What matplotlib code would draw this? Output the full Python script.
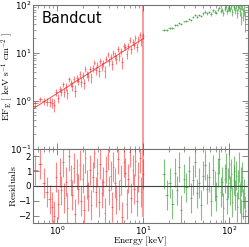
import matplotlib
matplotlib.use("Agg")
import matplotlib.pyplot as plt
import numpy as np

# red instrument (soft band)
red_e = [0.56, 0.63, 0.70, 0.76, 0.82, 0.87, 0.92, 0.97, 1.02, 1.07,
         1.12, 1.17, 1.22, 1.27, 1.32, 1.38, 1.44, 1.50, 1.56, 1.62,
         1.69, 1.76, 1.83, 1.90, 1.98, 2.06, 2.14, 2.23, 2.32, 2.41,
         2.51, 2.61, 2.72, 2.83, 2.94, 3.06, 3.18, 3.31, 3.44, 3.58,
         3.72, 3.87, 4.03, 4.19, 4.36, 4.53, 4.71, 4.90, 5.10, 5.30,
         5.51, 5.73, 5.96, 6.20, 6.45, 6.71, 6.98, 7.26, 7.55, 7.85,
         8.16, 8.49, 8.83, 9.18, 9.55, 9.95]
red_xerr = [0.04, 0.035, 0.03, 0.03, 0.025, 0.025, 0.025, 0.025, 0.025, 0.025,
            0.025, 0.025, 0.025, 0.025, 0.03, 0.03, 0.03, 0.03, 0.03, 0.03,
            0.035, 0.035, 0.035, 0.04, 0.04, 0.04, 0.045, 0.045, 0.045, 0.05,
            0.05, 0.05, 0.055, 0.055, 0.06, 0.06, 0.065, 0.065, 0.07, 0.07,
            0.075, 0.08, 0.08, 0.085, 0.085, 0.09, 0.095, 0.1, 0.1, 0.105,
            0.11, 0.115, 0.12, 0.125, 0.13, 0.135, 0.14, 0.145, 0.15, 0.155,
            0.165, 0.17, 0.175, 0.185, 0.19, 0.2]
red_f = [0.89, 1.08, 0.99, 0.97, 0.96, 0.92, 0.84, 1.54, 1.15, 1.81,
         1.55, 2.22, 1.55, 1.99, 1.44, 2.83, 2.34, 2.04, 2.91, 1.65,
         3.00, 2.64, 3.59, 2.45, 3.42, 2.34, 4.60, 3.65, 3.29, 4.71,
         3.15, 4.76, 6.30, 4.37, 5.72, 4.13, 6.83, 5.13, 6.21, 4.16,
         7.60, 9.29, 6.68, 8.30, 5.77, 9.95, 8.73, 7.39, 12.2, 8.60,
         10.8, 6.53, 14.2, 13.4, 9.49, 13.7, 18.7, 11.8, 17.3, 14.6,
         20.5, 13.5, 19.1, 24.2, 17.5, 22.7]
red_ferr = [0.13, 0.15, 0.17, 0.19, 0.21, 0.22, 0.24, 0.25, 0.26, 0.28,
            0.30, 0.31, 0.33, 0.34, 0.35, 0.37, 0.39, 0.41, 0.43, 0.45,
            0.47, 0.49, 0.52, 0.54, 0.57, 0.59, 0.62, 0.65, 0.68, 0.71,
            0.74, 0.77, 0.81, 0.85, 0.89, 0.93, 0.97, 1.02, 1.06, 1.11,
            1.16, 1.21, 1.27, 1.33, 1.39, 1.45, 1.52, 1.59, 1.66, 1.74,
            1.82, 1.89, 1.98, 2.07, 2.18, 2.27, 2.38, 2.48, 2.59, 2.72,
            2.83, 2.97, 3.10, 3.24, 3.40, 3.56]
red_res = [1.1, 1.5, 0.2, -0.4, -0.9, -1.4, -2.0, 0.6, -1.2, 0.9,
           -0.3, 1.6, -0.8, 0.3, -1.5, 2.0, 0.4, -0.6, 1.2, -1.9,
           0.8, -0.2, 1.4, -1.0, 0.5, -1.6, 1.9, 0.1, -0.7, 1.1,
           -1.3, 0.6, 2.2, -0.4, 0.9, -1.1, 1.5, -0.5, 0.3, -1.8,
           1.0, 2.1, -0.3, 0.7, -1.4, 1.3, 0.2, -0.9, 1.8, -0.6,
           0.4, -2.1, 1.6, 0.9, -1.2, 0.5, 2.3, -0.8, 1.1, -0.2,
           1.7, -1.0, 0.6, 1.9, -0.4, 0.8]

# last soft bin at the band edge (huge bar)
edge_e = [10.1]
edge_f = [25.0]
edge_lo = [0.03]
edge_hi = [150.0]
edge_res = [0.2]
edge_reserr = [2.3]

red_model_e = [0.52, 10.1]
red_model_f = [0.68, 20.0]

# green instrument (hard band)
green_e = [17.5, 19, 20.5, 22, 23.5, 25, 26.5, 28, 30, 32,
           34, 36, 38, 40, 42.5, 45, 47.5, 50, 53, 56,
           59, 62, 65, 68, 71, 74, 77, 80, 83, 86,
           89, 92, 95, 98, 101, 104, 107, 110, 113, 116,
           119, 122, 125, 128, 131, 134, 137, 140, 143, 146,
           150, 155]
green_xerr = [0.75, 0.75, 0.75, 0.75, 0.75, 0.75, 0.75, 0.75, 1.0, 1.0,
              1.0, 1.0, 1.0, 1.0, 1.25, 1.25, 1.25, 1.25, 1.5, 1.5,
              1.5, 1.5, 1.5, 1.5, 1.5, 1.5, 1.5, 1.5, 1.5, 1.5,
              1.5, 1.5, 1.5, 1.5, 1.5, 1.5, 1.5, 1.5, 1.5, 1.5,
              1.5, 1.5, 1.5, 1.5, 1.5, 1.5, 1.5, 1.5, 1.5, 1.5,
              2.0, 2.5]
green_f = [30.0, 30.2, 33.2, 33.1, 38.0, 38.0, 42.5, 39.5, 45.5, 46.8,
           51.8, 49.5, 55.0, 60.7, 57.3, 62.4, 58.7, 67.1, 72.3, 66.4,
           71.5, 64.6, 76.9, 72.3, 69.4, 80.3, 87.2, 74.0, 80.1, 67.1,
           84.0, 91.5, 73.6, 84.6, 98.4, 80.6, 93.2, 71.7, 90.1, 98.5,
           78.4, 96.2, 67.4, 88.8, 98.0, 75.4, 93.5, 55.1, 97.6, 66.1,
           79.4, 50.7]
green_ferr = [1.2, 1.2, 1.3, 1.4, 1.5, 1.5, 1.6, 1.7, 1.8, 2.4,
              2.5, 2.6, 2.7, 2.8, 3.2, 3.4, 3.5, 3.9, 4.6, 4.7,
              4.8, 5.2, 5.3, 5.8, 5.9, 6.3, 6.4, 6.9, 7.8, 7.9,
              8.4, 8.9, 9.0, 9.9, 10.0, 10.9, 11.0, 11.9, 11.9, 12.8,
              12.9, 13.8, 13.9, 14.8, 15.8, 15.9, 16.8, 17.8, 18.8, 19.7,
              21.6, 23.6]
green_res = [0.8, -0.6, 0.2, -1.2, 0.9, -0.3, 1.3, -1.6, 0.5, -0.1,
             1.0, -0.8, 0.4, 1.6, -0.5, 0.2, -1.3, 0.7, 1.4, -0.2,
             0.6, -1.0, 1.1, 0.0, -0.7, 0.9, 1.8, -0.4, 0.3, -1.5,
             0.5, 1.2, -0.9, 0.2, 1.5, -0.3, 0.8, -1.1, 0.4, 1.0,
             -0.6, 0.7, -1.4, 0.1, 1.3, -0.8, 0.3, -1.9, 0.6, -1.2,
             -0.5, -1.7]

RED = "#ff2020"
GREEN = "#2a9a2a"

plt.rcParams["axes.edgecolor"] = "0.45"
plt.rcParams["xtick.color"] = "0.45"
plt.rcParams["ytick.color"] = "0.45"
plt.rcParams["xtick.labelcolor"] = "black"
plt.rcParams["ytick.labelcolor"] = "black"

fig = plt.figure(figsize=(2.49, 2.47), dpi=100)
ax = fig.add_axes([0.1325, 0.397, 0.862, 0.583])
axr = fig.add_axes([0.1325, 0.097, 0.862, 0.30], sharex=ax)

ekw = dict(fmt="none", lw=0.8, capsize=0)

# top panel
ax.errorbar(red_e, red_f, xerr=red_xerr, yerr=red_ferr, ecolor=RED, alpha=0.55, **ekw)
lo = np.array(edge_f) - np.array(edge_lo)
hi = np.array(edge_hi) - np.array(edge_f)
ax.errorbar(edge_e, edge_f, yerr=[lo, hi], ecolor=RED, alpha=0.55, lw=1.2, fmt="none")
ax.plot(red_model_e, red_model_f, color=RED, lw=0.7, alpha=0.8)
ax.errorbar(green_e, green_f, xerr=green_xerr, yerr=green_ferr, ecolor=GREEN, alpha=0.6, **ekw)

ax.set_xscale("log")
ax.set_yscale("log")
ax.set_xlim(0.525, 165)
ax.set_ylim(0.1, 100)
ax.text(0.04, 0.96, "Bandcut", transform=ax.transAxes, fontsize=10.5, va="top", ha="left")
ax.set_ylabel(r"$\mathrm{EF_E\ [\ keV\ s^{-1}\ cm^{-2}\ ]}$", math_fontfamily="cm", fontsize=6.8)
ax.yaxis.set_label_coords(-0.082, 0.5)
ax.tick_params(labelbottom=False)

# residual panel
axr.errorbar(red_e, red_res, xerr=red_xerr, yerr=1.0, ecolor=RED, alpha=0.55, **ekw)
axr.errorbar(edge_e, edge_res, yerr=edge_reserr, ecolor=RED, alpha=0.55, lw=1.2, fmt="none")
axr.errorbar(green_e, green_res, xerr=green_xerr, yerr=1.0, ecolor=GREEN, alpha=0.6, **ekw)
axr.axhline(0, color="0.25", lw=0.8)
axr.set_ylim(-2.5, 2.5)
axr.set_yticks([-2, -1, 0, 1, 2])
axr.set_ylabel(r"$\mathrm{Residuals}$", math_fontfamily="cm", fontsize=7)
axr.yaxis.set_label_coords(-0.07, 0.5)
axr.set_xlabel(r"$\mathrm{Energy\ [keV]}$", math_fontfamily="cm", fontsize=6.8)
axr.xaxis.set_label_coords(0.5, -0.16)

for a in (ax, axr):
    a.tick_params(which="both", direction="in", top=True, right=True, labelsize=6.2, pad=1.2)
    a.tick_params(which="major", length=4, width=0.6)
    a.tick_params(which="minor", length=2, width=0.5)
    for s in a.spines.values():
        s.set_linewidth(0.8)

fig.savefig("out.png", dpi=100)
